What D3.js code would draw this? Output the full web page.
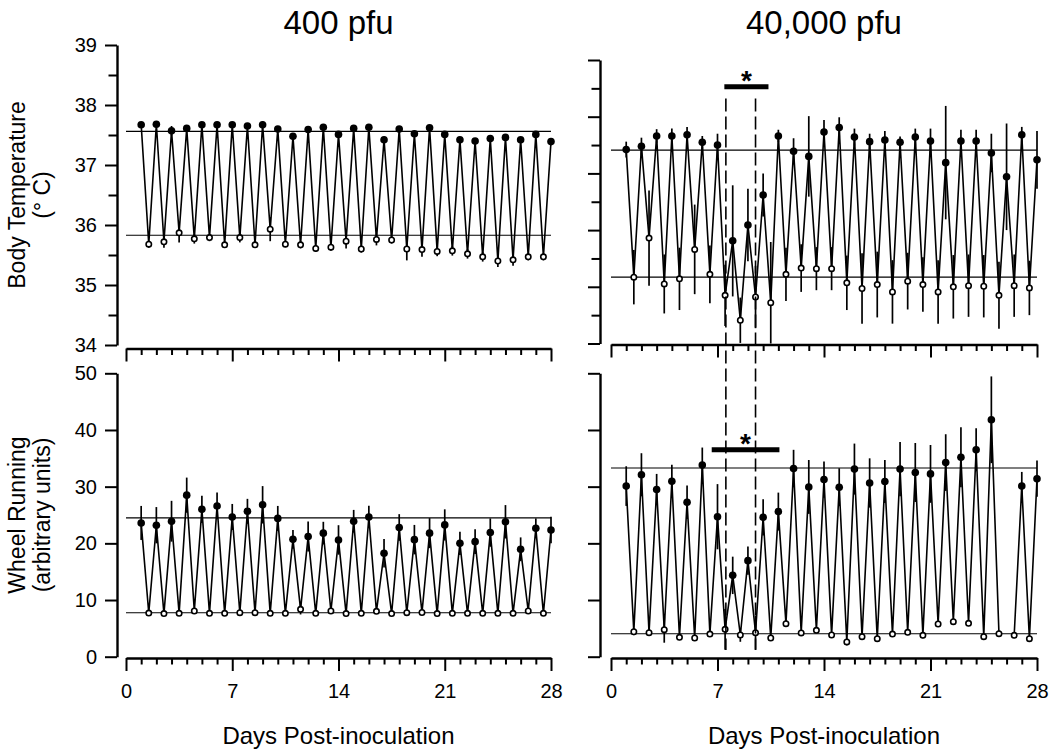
<!DOCTYPE html>
<html>
<head>
<meta charset="utf-8">
<script src="https://cdn.jsdelivr.net/npm/d3@7"></script>
<style>
  html, body { margin: 0; padding: 0; background: #fff; }
  svg { display: block; }
  text { font-family: "Liberation Sans", Arial, sans-serif; fill: #000; }
</style>
</head>
<body>
<svg id="chart" width="1050" height="754"></svg>
<script>
// ---------------- DATA ----------------
const darkPhaseDays  = [1,2,3,4,5,6,7,8,9,10,11,12,13,14,15,16,17,18,19,20,21,22,23,24,25,26,27,28];
const lightPhaseDays = [1.5,2.5,3.5,4.5,5.5,6.5,7.5,8.5,9.5,10.5,11.5,12.5,13.5,14.5,15.5,16.5,17.5,18.5,19.5,20.5,21.5,22.5,23.5,24.5,25.5,26.5,27.5];

const panelTitles = ["400 pfu", "40,000 pfu"];
const xAxisTitle = "Days Post-inoculation";
const tempTitle = ["Body Temperature", "(° C)"];
const wheelTitle = ["Wheel Running", "(arbitrary units)"];

const dayTicks = [0, 7, 14, 21, 28];
const tempTicks = [34, 35, 36, 37, 38, 39];
const tempMinorTicks = [34.5, 35.5, 36.5, 37.5, 38.5];
const wheelTicks = [0, 10, 20, 30, 40, 50];

// 400 pfu body temperature
const temp400Dark    = [37.67,37.68,37.57,37.61,37.67,37.67,37.67,37.65,37.67,37.60,37.48,37.59,37.63,37.51,37.61,37.63,37.42,37.60,37.52,37.62,37.51,37.42,37.40,37.44,37.46,37.42,37.51,37.39];
const temp400DarkSem = [0.04,0.05,0.08,0.04,0.04,0.04,0.04,0.04,0.06,0.04,0.04,0.04,0.05,0.04,0.04,0.04,0.05,0.04,0.04,0.04,0.04,0.04,0.04,0.04,0.04,0.04,0.04,0.05];
const temp400Light    = [35.68,35.72,35.87,35.77,35.79,35.67,35.79,35.67,35.93,35.68,35.67,35.61,35.63,35.73,35.60,35.76,35.75,35.60,35.59,35.56,35.57,35.52,35.47,35.40,35.42,35.47,35.47];
const temp400LightSem = [0.06,0.10,0.16,0.08,0.06,0.05,0.08,0.05,0.20,0.05,0.06,0.06,0.06,0.12,0.06,0.10,0.06,0.19,0.12,0.08,0.08,0.08,0.08,0.10,0.10,0.06,0.06];
const temp400Ref = [37.56, 35.83];

// 40,000 pfu body temperature
const temp40kDark    = [37.42,37.48,37.66,37.66,37.68,37.55,37.50,35.81,36.09,36.62,37.66,37.39,37.30,37.73,37.81,37.64,37.56,37.59,37.55,37.64,37.57,37.19,37.57,37.57,37.36,36.94,37.68,37.24];
const temp40kDarkSem = [0.14,0.15,0.12,0.13,0.14,0.11,0.20,0.98,0.64,0.38,0.11,0.23,0.71,0.21,0.18,0.15,0.14,0.16,0.10,0.15,0.22,1.00,0.20,0.20,0.34,0.94,0.14,0.51];
const temp40kLight    = [35.17,35.86,35.05,35.14,35.66,35.22,34.85,34.41,34.82,34.72,35.22,35.33,35.32,35.32,35.07,34.97,35.04,34.91,35.10,35.04,34.91,35.00,35.02,35.01,34.85,35.02,34.98];
const temp40kLightSem = [0.48,0.84,0.52,0.55,0.79,0.51,0.54,0.40,0.55,1.07,0.47,0.42,0.38,0.38,0.48,0.62,0.58,0.56,0.50,0.48,0.56,0.56,0.55,0.55,0.59,0.55,0.48];
const temp40kRef = [37.41, 35.17];

// 400 pfu wheel running
const wheel400Dark    = [23.6,23.2,23.9,28.5,26.0,26.6,24.65,25.65,26.8,24.4,20.7,21.2,21.8,20.6,23.9,24.65,18.25,22.8,20.65,21.8,23.25,20.0,20.3,21.9,23.8,18.95,22.65,22.35];
const wheel400DarkSem = [3.0,3.2,3.6,3.1,2.4,2.35,2.3,2.2,3.3,2.2,1.65,2.65,2.0,2.6,2.0,2.0,2.5,2.35,2.6,2.65,2.75,2.05,2.2,2.5,2.95,2.1,1.75,2.35];
const wheel400Light    = [7.7,7.6,7.65,8.06,7.65,7.65,7.76,7.76,7.65,7.65,8.35,7.65,8.06,7.6,7.65,8.0,7.6,7.76,7.8,7.6,7.65,7.65,7.65,7.65,7.65,8.06,7.65];
const wheel400LightSem = [0.3,0.3,0.3,0.3,0.3,0.3,0.3,0.3,0.3,0.3,0.9,0.3,0.3,0.3,0.3,0.3,0.3,0.3,0.3,0.3,0.3,0.3,0.3,0.3,0.3,0.3,0.3];
const wheel400Ref = [24.5, 7.76];

// 40,000 pfu wheel running (day 26 dark phase missing)
const wheel40kDark    = [30.1,32.1,29.5,30.95,27.25,33.8,24.7,14.35,16.95,24.6,25.6,33.2,29.95,31.25,29.9,33.1,30.65,30.9,33.1,32.5,32.25,34.25,35.2,36.5,41.8,null,30.1,31.4];
const wheel40kDarkSem = [3.5,3.8,2.75,2.9,2.95,3.1,5.75,3.3,2.5,3.2,3.35,3.3,4.75,3.2,3.35,4.5,4.35,3.8,4.8,5.2,5.1,5.0,5.3,3.8,7.65,null,2.5,3.2];
const wheel40kLight    = [4.4,4.24,4.77,3.42,3.3,4.0,4.83,3.83,4.24,3.3,5.83,4.2,4.65,3.83,2.6,3.53,3.18,4.0,4.3,3.77,5.77,6.18,5.89,3.53,4.06,3.77,3.18];
const wheel40kLightSem = [0.6,0.5,2.3,0.5,0.5,0.5,3.6,1.2,3.0,0.5,0.6,0.5,0.5,0.5,0.6,0.5,0.5,0.5,0.5,0.5,0.5,0.5,0.5,0.5,0.5,0.5,0.5];
const wheel40kRef = [33.3, 4.06];

// significance annotations (40,000 pfu)
const sigTempSpan  = [7.45, 10.35];  const sigTempLevel = 38.53;
const sigWheelSpan = [6.62, 11.07];  const sigWheelLevel = 36.5;
const dashedDays = [7.55, 9.5];
const dashedTempTop = 38.32; const dashedWheelBottom = 1.2;

// ---------------- SCALES ----------------
const svg = d3.select("#chart");
const FONT = "'Liberation Sans', Arial, sans-serif";

const xLeft  = d3.scaleLinear().domain([0, 28]).range([126, 551]);
const xRight = d3.scaleLinear().domain([0, 28]).range([611, 1037]);
const yTempLeft  = d3.scaleLinear().domain([34, 39]).range([345, 45]);
const yTempRight = d3.scaleLinear().domain([34, 39]).range([343.5, 60]);
const yWheelLeft  = d3.scaleLinear().domain([0, 50]).range([656.7, 373.3]);
const yWheelRight = d3.scaleLinear().domain([0, 50]).range([656.7, 373.3]);

const panels = [
  {x: xLeft,  y: yTempLeft,  dark: temp400Dark,  darkSem: temp400DarkSem,  light: temp400Light,  lightSem: temp400LightSem,  ref: temp400Ref,  yAxisX: 117, xAxisY: 348.5, kind: "temp",  labels: true,  xLabels: false},
  {x: xRight, y: yTempRight, dark: temp40kDark,  darkSem: temp40kDarkSem,  light: temp40kLight,  lightSem: temp40kLightSem,  ref: temp40kRef,  yAxisX: 600, xAxisY: 344.5, kind: "temp",  labels: false, xLabels: false},
  {x: xLeft,  y: yWheelLeft, dark: wheel400Dark, darkSem: wheel400DarkSem, light: wheel400Light, lightSem: wheel400LightSem, ref: wheel400Ref, yAxisX: 117, xAxisY: 658,   kind: "wheel", labels: true,  xLabels: true},
  {x: xRight, y: yWheelRight,dark: wheel40kDark, darkSem: wheel40kDarkSem, light: wheel40kLight, lightSem: wheel40kLightSem, ref: wheel40kRef, yAxisX: 600, xAxisY: 658,   kind: "wheel", labels: false, xLabels: true}
];

function styleAxis(g, w) {
  g.select(".domain").attr("stroke", "#000").attr("stroke-width", w);
  g.selectAll(".tick line").attr("stroke", "#000").attr("stroke-width", 2);
  g.selectAll(".tick text").attr("font-family", FONT).attr("font-size", 20).attr("fill", "#000");
}

panels.forEach(p => {
  const g = svg.append("g");
  const [x0, x1] = p.x.range();

  // reference lines
  g.selectAll("line.ref").data(p.ref).enter().append("line")
    .attr("x1", x0).attr("x2", x1)
    .attr("y1", d => p.y(d)).attr("y2", d => p.y(d))
    .attr("stroke", "#000").attr("stroke-width", 1.1);

  // merged series (alternating dark / light)
  const pts = [];
  darkPhaseDays.forEach((d, i) => {
    pts.push({day: d, v: p.dark[i], sem: p.darkSem[i], filled: true});
    if (i < lightPhaseDays.length) pts.push({day: lightPhaseDays[i], v: p.light[i], sem: p.lightSem[i], filled: false});
  });
  const [ymin, ymax] = p.y.domain();
  const valid = pts.filter(d => d.v != null);

  // error bars
  g.selectAll("line.err").data(valid).enter().append("line")
    .attr("x1", d => p.x(d.day)).attr("x2", d => p.x(d.day))
    .attr("y1", d => p.y(Math.max(ymin, d.v - d.sem)))
    .attr("y2", d => p.y(Math.min(ymax, d.v + d.sem)))
    .attr("stroke", "#000").attr("stroke-width", 1.7);

  // connecting line
  const line = d3.line().defined(d => d.v != null).x(d => p.x(d.day)).y(d => p.y(d.v));
  g.append("path").datum(pts).attr("d", line)
    .attr("fill", "none").attr("stroke", "#000").attr("stroke-width", 1.6).attr("stroke-linejoin", "miter");

  // points
  g.selectAll("circle.pt").data(valid).enter().append("circle")
    .attr("cx", d => p.x(d.day)).attr("cy", d => p.y(d.v))
    .attr("r", d => d.filled ? 3.8 : 2.7)
    .attr("fill", d => d.filled ? "#000" : "#fff")
    .attr("stroke", "#000").attr("stroke-width", d => d.filled ? 0 : 1.6);

  // y axis
  const yTicks = p.kind === "temp" ? tempTicks : wheelTicks;
  const yAxisMajor = d3.axisLeft(p.y).tickValues(yTicks).tickSize(12).tickSizeOuter(0).tickPadding(8)
    .tickFormat(p.labels ? d3.format("d") : () => "");
  const ya = svg.append("g").attr("transform", `translate(${p.yAxisX},0)`).call(yAxisMajor);
  styleAxis(ya, 2.4);
  if (p.kind === "temp") {
    const ym = svg.append("g").attr("transform", `translate(${p.yAxisX},0)`)
      .call(d3.axisLeft(p.y).tickValues(tempMinorTicks).tickSize(8.5).tickSizeOuter(0).tickFormat(() => ""));
    ym.select(".domain").remove();
    ym.selectAll(".tick line").attr("stroke", "#000").attr("stroke-width", 2);
  }

  // x axis
  const xa = svg.append("g").attr("transform", `translate(0,${p.xAxisY})`)
    .call(d3.axisBottom(p.x).tickValues(dayTicks).tickSize(13).tickSizeOuter(0).tickPadding(13)
      .tickFormat(p.xLabels ? d3.format("d") : () => ""));
  styleAxis(xa, 2.4);
  const xm = svg.append("g").attr("transform", `translate(0,${p.xAxisY})`)
    .call(d3.axisBottom(p.x).tickValues(d3.range(0, 29).filter(d => d % 7 !== 0)).tickSize(6.5).tickSizeOuter(0).tickFormat(() => ""));
  xm.select(".domain").remove();
  xm.selectAll(".tick line").attr("stroke", "#000").attr("stroke-width", 2);
});

// ---------------- ANNOTATIONS ----------------
// dashed vertical lines spanning both right panels
svg.selectAll("line.dash").data(dashedDays).enter().append("line")
  .attr("x1", d => xRight(d)).attr("x2", d => xRight(d))
  .attr("y1", yTempRight(dashedTempTop)).attr("y2", yWheelRight(dashedWheelBottom))
  .attr("stroke", "#000").attr("stroke-width", 1.6).attr("stroke-dasharray", "13,5");

// significance bars + asterisks
[[sigTempSpan, yTempRight(sigTempLevel)], [sigWheelSpan, yWheelRight(sigWheelLevel)]].forEach(([span, yy]) => {
  svg.append("line").attr("x1", xRight(span[0])).attr("x2", xRight(span[1]))
    .attr("y1", yy).attr("y2", yy).attr("stroke", "#000").attr("stroke-width", 5);
  svg.append("text").attr("x", xRight((span[0] + span[1]) / 2)).attr("y", yy + 3)
    .attr("text-anchor", "middle").attr("font-size", 28).attr("font-weight", "bold").text("*");
});

// ---------------- TITLES ----------------
svg.append("text").attr("x", (xLeft.range()[0] + xLeft.range()[1]) / 2).attr("y", 34)
  .attr("text-anchor", "middle").attr("font-size", 33).text(panelTitles[0]);
svg.append("text").attr("x", (xRight.range()[0] + xRight.range()[1]) / 2).attr("y", 34)
  .attr("text-anchor", "middle").attr("font-size", 33).text(panelTitles[1]);

[xLeft, xRight].forEach(sc => {
  svg.append("text").attr("x", (sc.range()[0] + sc.range()[1]) / 2).attr("y", 744)
    .attr("text-anchor", "middle").attr("font-size", 24).text(xAxisTitle);
});

function yTitle(lines, cy) {
  lines.forEach((t, i) => {
    svg.append("text").attr("transform", `translate(${25 + i * 25},${cy}) rotate(-90)`)
      .attr("text-anchor", "middle").attr("font-size", 23).text(t);
  });
}
yTitle(tempTitle, 195);
yTitle(wheelTitle, 515);
</script>
</body>
</html>
